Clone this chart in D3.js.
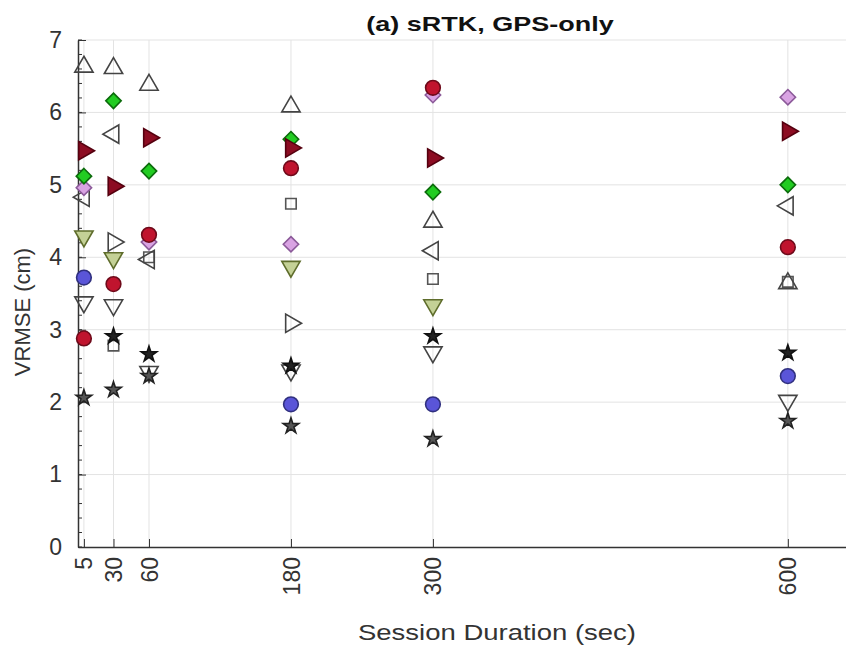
<!DOCTYPE html>
<html>
<head>
<meta charset="utf-8">
<script src="https://cdn.jsdelivr.net/npm/d3@7"></script>
<style>
  body { margin: 0; background: #fff; }
  text { font-family: "Liberation Sans", Arial, sans-serif; }
</style>
</head>
<body>
<svg id="chart" width="846" height="653"></svg>
<script>
// session durations (sec)
const durations = [5, 30, 60, 180, 300, 600];
const yTicks = [0, 1, 2, 3, 4, 5, 6, 7];

// VRMSE values (cm) per series, null where the marker is hidden
const triUp     = [6.63, 6.61, 6.38, 6.08, 4.49, 3.64];
const greenDia  = [5.12, 6.16, 5.19, 5.63, 4.90, 5.00];
const redRight  = [5.47, 4.98, 5.65, 5.51, 5.37, 5.74];
const triLeft   = [4.83, 5.70, 3.97, null, 4.09, 4.71];
const redCircle = [2.88, 3.63, 4.31, 5.23, 6.34, 4.14];
const purpleDia = [4.96, null, 4.21, 4.18, 6.24, 6.21];
const oliveDown = [4.29, 3.99, null, 3.87, 3.34, null];
const triRight  = [null, 4.21, null, 3.09, null, null];
const square    = [null, 2.78, 4.00, 4.74, 3.70, 3.66];
const blueDot   = [3.72, null, null, 1.97, 1.97, 2.36];
const triDown   = [3.38, 3.34, 2.42, 2.44, 2.69, 2.02];
const darkStar  = [null, 2.91, 2.66, 2.50, 2.91, 2.68];
const star      = [2.06, 2.17, 2.36, 1.67, 1.49, 1.74];

const series = [
  { values: square,    shape: "square",  fill: "none",    stroke: "#555" },
  { values: triUp,     shape: "up",      fill: "none",    stroke: "#444" },
  { values: triLeft,   shape: "left",    fill: "none",    stroke: "#444" },
  { values: triRight,  shape: "right",   fill: "none",    stroke: "#444" },
  { values: triDown,   shape: "down",    fill: "none",    stroke: "#444" },
  { values: oliveDown, shape: "down",    fill: "#c4d196", stroke: "#5f6d2c" },
  { values: purpleDia, shape: "diamond", fill: "#d9a3e3", stroke: "#8b5a99" },
  { values: redCircle, shape: "circle",  fill: "#c0142e", stroke: "#6e0a1a" },
  { values: greenDia,  shape: "diamond", fill: "#22cc22", stroke: "#0b6b0b" },
  { values: redRight,  shape: "right",   fill: "#8c0c22", stroke: "#55000f" },
  { values: blueDot,   shape: "circle",  fill: "#5a55d8", stroke: "#30307f" },
  { values: darkStar,  shape: "star",    fill: "#222",    stroke: "#111" },
  { values: star,      shape: "star",    fill: "#555",    stroke: "#222" }
];

const svg = d3.select("#chart");
const plotLeft = 78, plotRight = 847, plotTop = 40, plotBottom = 547;

const x = d3.scaleLinear().domain([0, 650]).range([plotLeft, plotRight]);
const y = d3.scaleLinear().domain([0, 7]).range([plotBottom, plotTop]);

// grid
const grid = svg.append("g").attr("stroke", "#e3e3e3").attr("stroke-width", 1);
grid.selectAll(".gy").data(yTicks.slice(1)).join("line")
  .attr("x1", plotLeft).attr("x2", plotRight)
  .attr("y1", d => y(d)).attr("y2", d => y(d));
grid.selectAll(".gx").data(durations).join("line")
  .attr("x1", d => x(d)).attr("x2", d => x(d))
  .attr("y1", plotTop).attr("y2", plotBottom);

// axes
const yAxis = svg.append("g")
  .attr("transform", `translate(${plotLeft},0)`)
  .call(d3.axisLeft(y).tickValues(yTicks).tickFormat(d3.format("d"))
    .tickSizeInner(-8).tickSizeOuter(0).tickPadding(16));
yAxis.append("g").selectAll("line").data(d3.range(0, 7.01, 0.2)).join("line")
  .attr("x1", 0).attr("x2", 4)
  .attr("y1", d => y(d)).attr("y2", d => y(d))
  .attr("stroke", "#333");

const xAxis = svg.append("g")
  .attr("transform", `translate(0,${plotBottom})`)
  .call(d3.axisBottom(x).tickValues(durations).tickSizeInner(-8).tickSizeOuter(0));
xAxis.selectAll("text")
  .attr("transform", "rotate(-90)")
  .attr("text-anchor", "end")
  .attr("dy", "0.35em")
  .attr("x", -10).attr("y", 0);

[yAxis, xAxis].forEach(a => {
  a.select(".domain").attr("stroke", "#333").attr("stroke-width", 1.5);
  a.selectAll(".tick line").attr("stroke", "#333");
  a.selectAll("text").attr("font-size", 23).attr("fill", "#333");
});

// markers
const shapes = {
  up:      { type: d3.symbolTriangle, rot: 0, size: 145 },
  down:    { type: d3.symbolTriangle, rot: 180, size: 145 },
  left:    { type: d3.symbolTriangle, rot: -90, size: 145 },
  right:   { type: d3.symbolTriangle, rot: 90, size: 145 },
  circle:  { type: d3.symbolCircle, rot: 0, size: 170 },
  square:  { type: d3.symbolSquare, rot: 0, size: 110 },
  diamond: { type: d3.symbolDiamond2, rot: 0, size: 150 },
  star:    { type: d3.symbolStar, rot: 0, size: 75 }
};

series.forEach(s => {
  const sh = shapes[s.shape];
  const pts = durations.map((d, i) => ({ d, v: s.values[i] })).filter(p => p.v != null);
  svg.append("g").selectAll("path").data(pts).join("path")
    .attr("d", d3.symbol().type(sh.type).size(sh.size))
    .attr("transform", p => `translate(${x(p.d)},${y(p.v)}) rotate(${sh.rot})`)
    .attr("fill", s.fill)
    .attr("stroke", s.stroke)
    .attr("stroke-width", 1.6);
});

// labels (the reference text is drawn a bit wider than the font, hence scale)
svg.append("text")
  .attr("transform", "translate(490,31) scale(1.35,1)")
  .attr("text-anchor", "middle")
  .attr("font-size", 20).attr("font-weight", "bold").attr("fill", "#111")
  .text("(a) sRTK, GPS-only");

svg.append("text")
  .attr("transform", "translate(497,640) scale(1.25,1)")
  .attr("text-anchor", "middle")
  .attr("font-size", 22).attr("fill", "#333")
  .text("Session Duration (sec)");

svg.append("text")
  .attr("transform", "translate(30,312) rotate(-90)")
  .attr("text-anchor", "middle")
  .attr("font-size", 22).attr("fill", "#333")
  .text("VRMSE (cm)");
</script>
</body>
</html>
